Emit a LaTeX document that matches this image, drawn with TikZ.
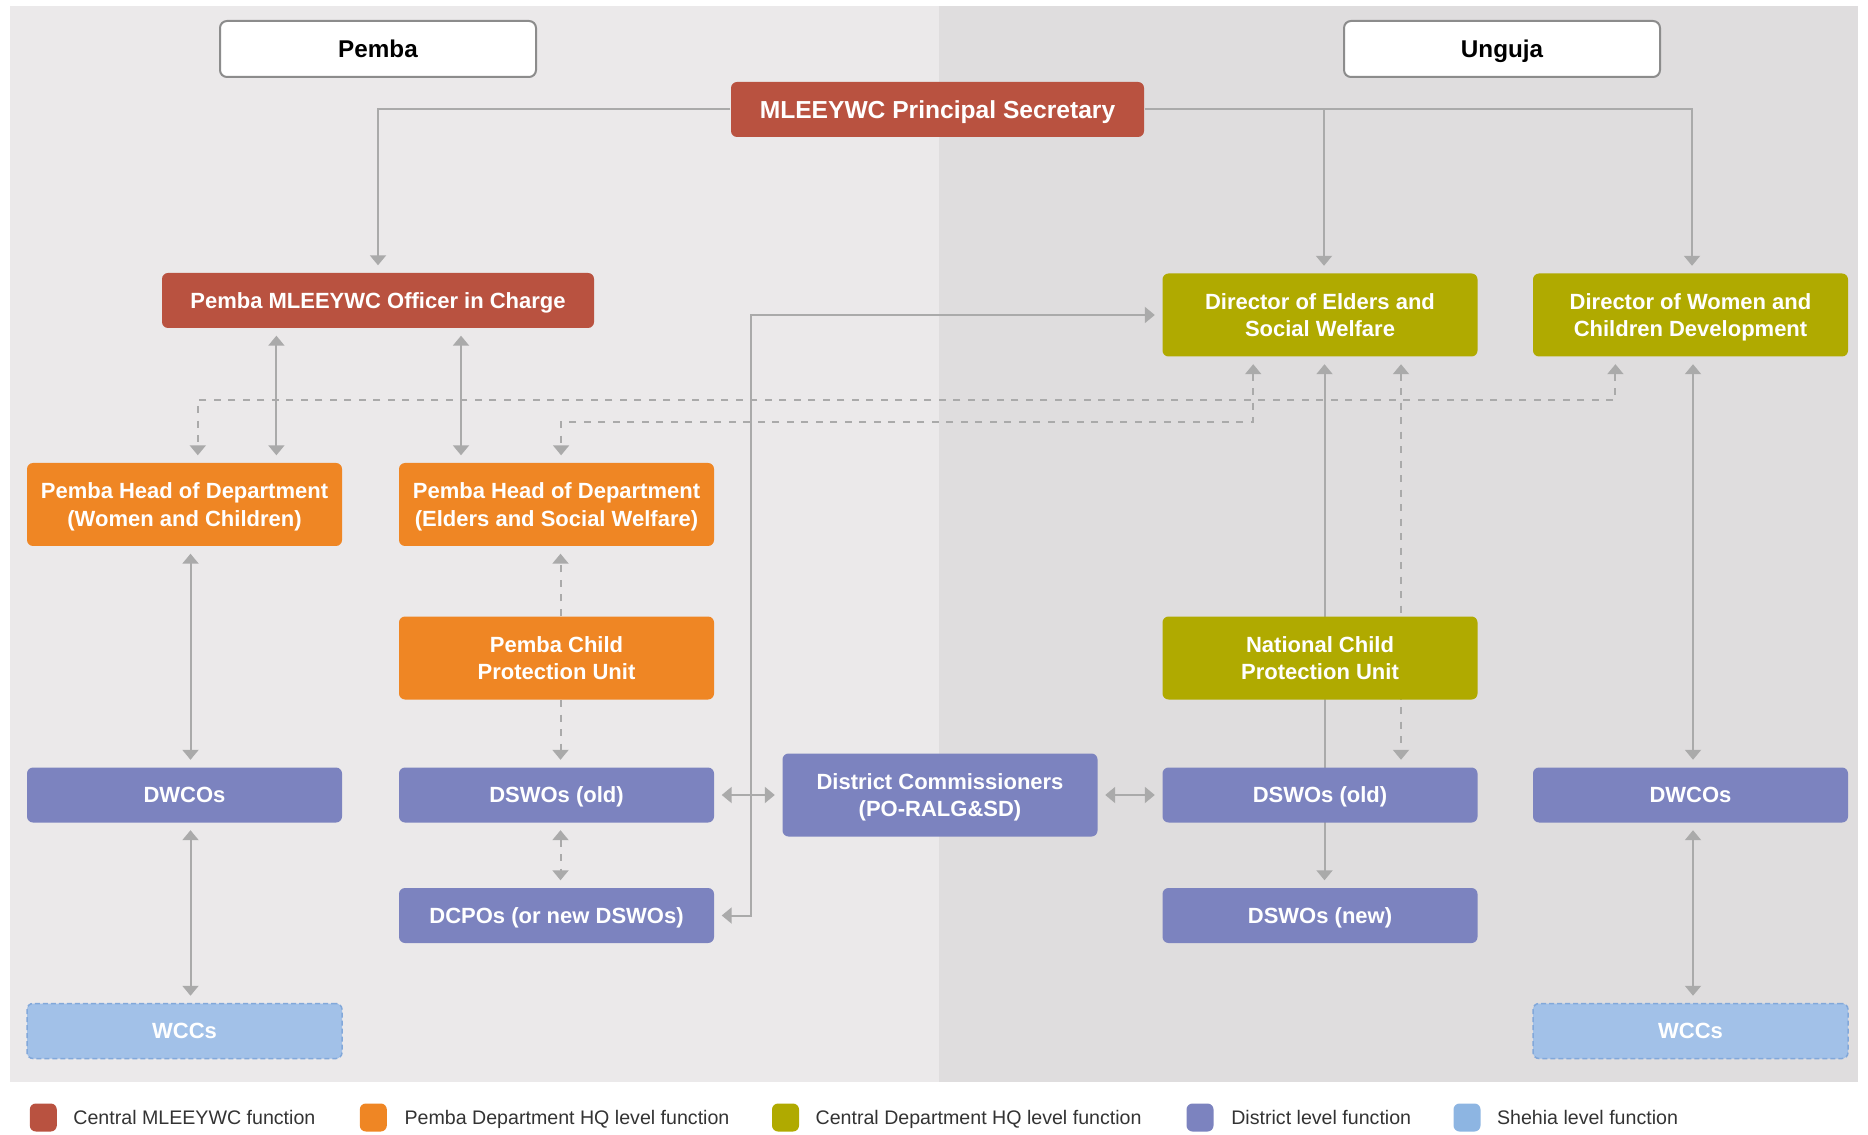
\documentclass[tikz,border=0pt]{standalone}
\usepackage{fontspec}
\setmainfont{Liberation Sans}
\usetikzlibrary{arrows.meta}

\definecolor{centralred}{RGB}{185,82,64}
\definecolor{pembaorange}{RGB}{239,134,36}
\definecolor{centralolive}{RGB}{176,170,0}
\definecolor{districtblue}{RGB}{124,131,191}
\definecolor{shehiablue}{RGB}{162,193,232}
\definecolor{shehiaedge}{RGB}{130,168,218}
\definecolor{shehiakey}{RGB}{141,181,226}
\definecolor{wiregray}{RGB}{170,170,170}
\definecolor{panelleft}{RGB}{235,233,234}
\definecolor{panelright}{RGB}{223,221,222}
\definecolor{islandedge}{RGB}{140,140,140}
\definecolor{keytext}{RGB}{51,51,51}

\newcommand\unitfont{\fontsize{6.26}{7.8}\selectfont\bfseries}
\newcommand\titlefont{\fontsize{7.0}{8.4}\selectfont\bfseries}
\newcommand\islandfont{\fontsize{6.9}{8.2}\selectfont\bfseries}
\newcommand\keyfont{\fontsize{5.58}{6.6}\selectfont}

\pgfdeclarelayer{panel}
\pgfdeclarelayer{wires}
\pgfsetlayers{panel,wires,main}

\tikzset{
  orgbox/.style={rounded corners=0.06cm, minimum width=3.15cm, inner sep=0pt,
    align=center, text=white, font=\unitfont, text depth=0pt},
  oneline/.style={minimum height=0.55cm, text height=4.48pt},
  twoline/.style={minimum height=0.83cm},
  centralfn/.style={orgbox, fill=centralred},
  pembafn/.style={orgbox, fill=pembaorange},
  deptfn/.style={orgbox, fill=centralolive},
  districtfn/.style={orgbox, fill=districtblue},
  shehiafn/.style={orgbox, fill=shehiablue, draw=shehiaedge, line width=0.015cm,
    dash pattern=on 0.05cm off 0.03cm},
  island/.style={draw=islandedge, fill=white, line width=0.02cm, rounded corners=0.07cm,
    minimum width=3.16cm, minimum height=0.56cm, text height=4.94pt, text depth=0pt,
    inner sep=0pt, font=\islandfont, text=black},
  keybox/.style={rounded corners=0.06cm, minimum width=0.27cm, minimum height=0.28cm, inner sep=0pt},
  keylabel/.style={anchor=base west, inner sep=0pt, font=\keyfont, text=keytext},
  conn/.style={draw=wiregray, line width=0.02cm},
  conndash/.style={conn, dash pattern=on 0.07cm off 0.075cm},
  tip/.style={-{Triangle[width=0.16cm,length=0.10cm]}, shorten >=0.07cm},
  tips/.style={{Triangle[width=0.16cm,length=0.10cm]}-{Triangle[width=0.16cm,length=0.10cm]},
    shorten >=0.07cm, shorten <=0.07cm}
}

\begin{document}
\begin{tikzpicture}
\useasboundingbox (0,0) rectangle (18.680000,11.340000);

% Shading the Pemba and Unguja halves
\begin{pgfonlayer}{panel}
\fill[panelleft] (0.100000,0.520000) rectangle (9.390000,11.280000);
\fill[panelright] (9.390000,0.520000) rectangle (18.580000,11.280000);
\end{pgfonlayer}

% Marking island Pemba
\node[island] (pemba) at (3.780000,10.850000) {Pemba};

% Marking island Unguja
\node[island] (unguja) at (15.020000,10.850000) {Unguja};

% Marking node Principal Secretary
\node[centralfn, oneline, minimum width=4.13cm, font=\titlefont, text height=5.01pt] (ps) at (9.375000,10.245000) {MLEEYWC Principal Secretary};

% Marking node Officer in Charge
\node[centralfn, oneline, minimum width=4.32cm] (officer) at (3.780000,8.335000) {Pemba MLEEYWC Officer in Charge};

% Marking node Director of Elders
\node[deptfn, twoline] (des) at (13.200000,8.190000) {Director of Elders and\\Social Welfare};

% Marking node Director of Women
\node[deptfn, twoline] (dwc) at (16.905000,8.190000) {Director of Women and\\Children Development};

% Marking node Head of Department (Women)
\node[pembafn, twoline] (hwc) at (1.845000,6.295000) {Pemba Head of Department\\(Women and Children)};

% Marking node Head of Department (Elders)
\node[pembafn, twoline] (hes) at (5.565000,6.295000) {Pemba Head of Department\\(Elders and Social Welfare)};

% Marking node Pemba CPU
\node[pembafn, twoline] (pcpu) at (5.565000,4.760000) {Pemba Child\\Protection Unit};

% Marking node National CPU
\node[deptfn, twoline] (ncpu) at (13.200000,4.760000) {National Child\\Protection Unit};

% Marking district nodes
\node[districtfn, oneline] (dwcoL) at (1.845000,3.390000) {DWCOs};
\node[districtfn, oneline] (dswoL) at (5.565000,3.390000) {DSWOs (old)};
\node[districtfn, twoline] (dc) at (9.400000,3.390000) {District Commissioners\\(PO-RALG\&SD)};
\node[districtfn, oneline] (dswoR) at (13.200000,3.390000) {DSWOs (old)};
\node[districtfn, oneline] (dwcoR) at (16.905000,3.390000) {DWCOs};
\node[districtfn, oneline] (dcpo) at (5.565000,2.185000) {DCPOs (or new DSWOs)};
\node[districtfn, oneline] (dswoN) at (13.200000,2.185000) {DSWOs (new)};

% Marking shehia nodes
\node[shehiafn, oneline] (wccL) at (1.845000,1.030000) {WCCs};
\node[shehiafn, oneline] (wccR) at (16.905000,1.030000) {WCCs};

% Bend points of the long connectors
\coordinate (wcbend) at (1.978000,7.337000);
\coordinate (esbend) at (5.611000,7.123000);
\coordinate (cpobend) at (7.505000,5.000000);

\begin{pgfonlayer}{wires}
% Drawing connectors from the Principal Secretary
\draw[conn, tip] (ps.west) -| (officer.north);
\draw[conn, tip] (ps.east) -| ([xshift=0.015cm]dwc.north);
\draw[conn, tip] (ps.east -| des.north) ++(0.04,0) -- ([xshift=0.04cm]des.north);

% Drawing connectors below the Officer in Charge
\draw[conn, tips] ([xshift=-1.016cm]officer.south) -- ([xshift=-1.016cm]officer.south |- hwc.north);
\draw[conn, tips] ([xshift=0.830cm]officer.south) -- ([xshift=0.830cm]officer.south |- hes.north);

% Drawing dashed connectors between the heads and the directors
\draw[conndash, tips] ([xshift=-0.751cm]dwc.south) |- (wcbend) -- (wcbend |- hwc.north);
\draw[conndash, tips] ([xshift=-0.668cm]des.south) |- (esbend) -- (esbend |- hes.north);

% Drawing connectors below the Director of Elders
\draw[conn, tips] ([xshift=0.045cm]des.south) -- ([xshift=0.045cm]dswoN.north);
\draw[conndash, tips] ([xshift=0.810cm]des.south) -- ([xshift=0.810cm]des.south |- dswoR.north);
\draw[conn, tips] (dcpo.east) -| (cpobend) |- (des.west);

% Drawing Women and Children column
\draw[conn, tips] ([xshift=0.06cm]hwc.south) -- ([xshift=0.06cm]dwcoL.north);
\draw[conn, tips] ([xshift=0.06cm]dwcoL.south) -- ([xshift=0.06cm]wccL.north);
\draw[conn, tips] ([xshift=0.025cm]dwc.south) -- ([xshift=0.025cm]dwcoR.north);
\draw[conn, tips] ([xshift=0.025cm]dwcoR.south) -- ([xshift=0.025cm]wccR.north);

% Drawing Pemba CPU column
\draw[conndash, tip] ([xshift=0.04cm]pcpu.north) -- ([xshift=0.04cm]hes.south);
\draw[conndash, tip] ([xshift=0.04cm]pcpu.south) -- ([xshift=0.04cm]dswoL.north);
\draw[conndash, tips] ([xshift=0.04cm]dswoL.south) -- ([xshift=0.04cm]dcpo.north);

% Drawing District Commissioners links
\draw[conn, tips] (dswoL.east) -- (dc.west);
\draw[conn, tips] (dc.east) -- (dswoR.west);
\end{pgfonlayer}

% Marking legend
\node[keybox, fill=centralred] (keyc) at (0.433000,0.165000) {};
\node[keylabel] (keyctext) at (0.727000,0.098000) {Central MLEEYWC function};
\node[keybox, fill=pembaorange] (keyp) at (3.733000,0.165000) {};
\node[keylabel] (keyptext) at (4.039000,0.098000) {Pemba Department HQ level function};
\node[keybox, fill=centralolive] (keyd) at (7.855000,0.165000) {};
\node[keylabel] (keydtext) at (8.149000,0.098000) {Central Department HQ level function};
\node[keybox, fill=districtblue] (keyt) at (12.000000,0.165000) {};
\node[keylabel] (keyttext) at (12.306000,0.098000) {District level function};
\node[keybox, fill=shehiakey] (keys) at (14.670000,0.165000) {};
\node[keylabel] (keystext) at (14.963000,0.098000) {Shehia level function};
\end{tikzpicture}
\end{document}
